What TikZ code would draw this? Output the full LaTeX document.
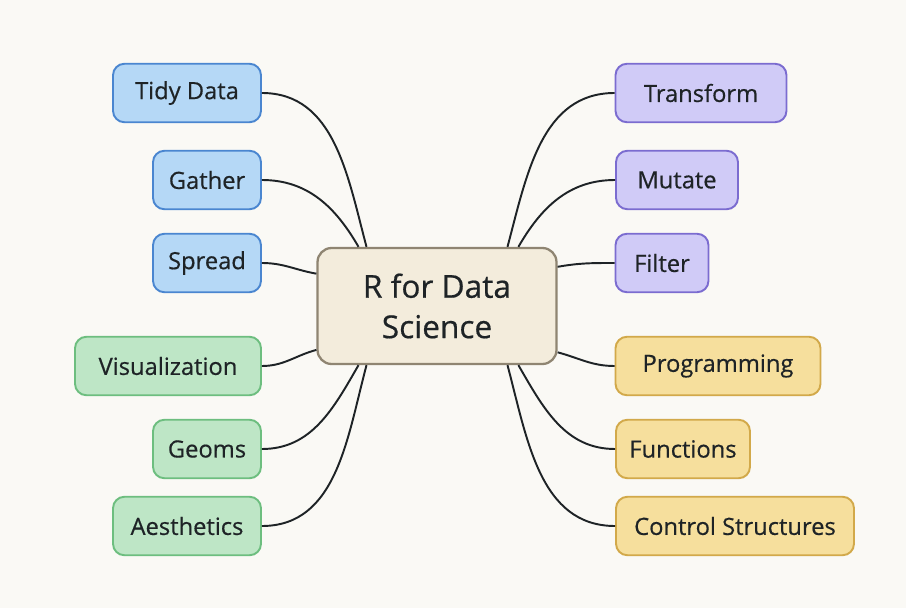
\documentclass[tikz,border=0pt]{standalone}
\usepackage{fontspec}
\setmainfont{Open Sans}
\newfontfamily\mapfont{Open Sans}[FakeBold=0.5]
\usepackage{tikz}

\definecolor{paper}{HTML}{FAF9F5}
\definecolor{ink}{HTML}{1E2326}
\definecolor{bluefill}{HTML}{B5D8F6}
\definecolor{blueline}{HTML}{4A86D0}
\definecolor{greenfill}{HTML}{BEE6C6}
\definecolor{greenline}{HTML}{6DBE7F}
\definecolor{purplefill}{HTML}{D0CBF7}
\definecolor{purpleline}{HTML}{7B6CD0}
\definecolor{yellowfill}{HTML}{F6DF9D}
\definecolor{yellowline}{HTML}{D2A94A}
\definecolor{hubfill}{HTML}{F3ECDC}
\definecolor{hubline}{HTML}{8F8572}

\begin{document}
\begin{tikzpicture}[x=0.02cm,y=0.02cm,line width=1.1pt,
  leaf/.style={draw, rounded corners=6.5pt, line width=1.1pt, inner sep=0pt,
    minimum height=1.17cm, text=ink, font=\mapfont\fontsize{13.5}{16}\selectfont},
  tidyleaf/.style={leaf, fill=bluefill, draw=blueline},
  vizleaf/.style={leaf, fill=greenfill, draw=greenline},
  wrangleleaf/.style={leaf, fill=purplefill, draw=purpleline},
  progleaf/.style={leaf, fill=yellowfill, draw=yellowline},
  link/.style={draw=ink, line width=1.1pt}]

\fill [paper] (0,0) rectangle (906,-608);

\node[draw=hubline, fill=hubfill, line width=1.3pt, rounded corners=8pt, minimum width=4.78cm, minimum height=2.32cm, align=center, text=ink, font=\mapfont\fontsize{18}{23}\selectfont] (hub) at (437,-306) {R for Data\\Science};

\node[tidyleaf, minimum width=2.96cm] (tidydata) at (187,-93) {Tidy Data};
\node[tidyleaf, minimum width=2.16cm] (gather) at (207,-180) {Gather};
\node[tidyleaf, minimum width=2.16cm] (spread) at (207,-263) {Spread};
\node[vizleaf, minimum width=3.72cm] (visualization) at (168,-366) {Visualization};
\node[vizleaf, minimum width=2.16cm] (geoms) at (207,-449) {Geoms};
\node[vizleaf, minimum width=2.96cm] (aesthetics) at (187,-526) {Aesthetics};

\node[wrangleleaf, minimum width=3.42cm] (transform) at (701,-93) {Transform};
\node[wrangleleaf, minimum width=2.44cm] (mutate) at (677,-180) {Mutate};
\node[wrangleleaf, minimum width=1.86cm] (filter) at (662,-263) {Filter};
\node[progleaf, minimum width=4.10cm] (programming) at (718,-366) {Programming};
\node[progleaf, minimum width=2.68cm] (functions) at (683,-449) {Functions};
\node[progleaf, minimum width=4.76cm] (control) at (735,-526) {Control Structures};

\draw [link] (tidydata.east) to[out=0,in=105] (hub.140);
\draw [link] (gather.east) to[out=0,in=120] (hub.143);
\draw [link] (spread.east) to[out=0,in=170] (hub.165);
\draw [link] (visualization.east) to[out=0,in=195] (hub.200);
\draw [link] (geoms.east) to[out=0,in=240] (hub.217);
\draw [link] (aesthetics.east) to[out=0,in=255] (hub.220);

\draw [link] (transform.west) to[out=180,in=75] (hub.40);
\draw [link] (mutate.west) to[out=180,in=60] (hub.36);
\draw [link] (filter.west) to[out=180,in=10] (hub.18);
\draw [link] (programming.west) to[out=180,in=-15] (hub.-21);
\draw [link] (functions.west) to[out=180,in=-60] (hub.-36);
\draw [link] (control.west) to[out=180,in=-75] (hub.-40);

\end{tikzpicture}
\end{document}
